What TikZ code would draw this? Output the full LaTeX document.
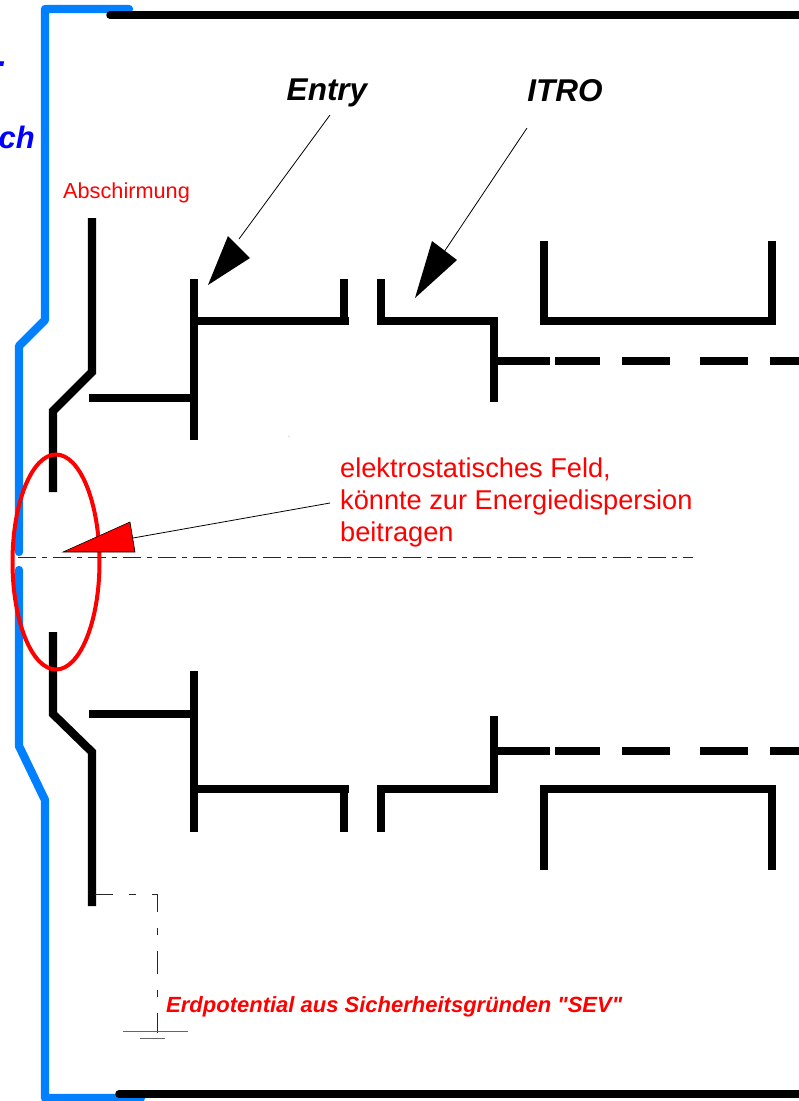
\documentclass[tikz,border=0pt]{standalone}
\usepackage{fontspec}
\newfontfamily\lib{Liberation Sans}
\definecolor{shield}{RGB}{0,128,255}
\begin{document}
\begin{tikzpicture}[x=1pt,y=-1pt,
 wall/.style={line width=8.3pt,black,line cap=butt,line join=miter},
 shell/.style={line width=7.5pt,black,line cap=round},
 blueline/.style={line width=8.3pt,shield,line cap=round,line join=round},
 thin line/.style={line width=0.8pt,black},
 tiphead/.style={draw=black,line width=0.6pt},
 axis/.style={line width=0.7pt,black!85,dash pattern=on 18pt off 6pt on 5pt off 6pt},
 gnd/.style={line width=0.8pt,black!85,dash pattern=on 23pt off 16pt on 7pt off 16pt,dash phase=5pt},
 redtxt/.style={text=red,inner sep=0pt,anchor=base west,font=\lib\fontsize{27.2}{30}\selectfont},
 bluetxt/.style={text=blue,inner sep=0pt,font=\lib\bfseries\itshape\fontsize{31}{34}\selectfont},
 blacktxt/.style={inner sep=0pt,anchor=base,font=\lib\bfseries\itshape\fontsize{31.5}{36}\selectfont}
]
\useasboundingbox (0,0) rectangle (799,1101);
\begin{scope}
\clip (0,0) rectangle (799,1101);
% outer housing
\draw[blueline] (129,9) -- (45,9) -- (45,320) -- (19,346) -- (19,552);
\draw[blueline] (19,570) -- (19,746) -- (45,800) -- (45,1098) -- (141,1098);
\draw[shell] (110,15) -- (799,15);
\draw[shell] (119,1094) -- (799,1094);
% upper electrodes
\draw[wall] (92,218) -- (92,372) -- (53,411) -- (53,492);
\draw[wall] (89,398) -- (194,398);
\draw[wall] (194,279) -- (194,440);
\draw[wall] (194,321) -- (349,321);
\draw[wall] (344,279) -- (344,325);
\draw[wall] (381,279) -- (381,321) -- (494,321) -- (494,402);
\draw[wall] (494,361) -- (550,361);
\draw[wall] (555,361) -- (600,361);
\draw[wall] (622,361) -- (670,361);
\draw[wall] (700,361) -- (748,361);
\draw[wall] (770,361) -- (799,361);
\draw[wall] (544,241) -- (544,321) -- (772,321) -- (772,241);
% lower electrodes
\draw[wall] (92,906) -- (92,752) -- (53,714) -- (53,632);
\draw[wall] (89,714) -- (194,714);
\draw[wall] (194,671) -- (194,832);
\draw[wall] (194,789) -- (349,789);
\draw[wall] (344,785) -- (344,832);
\draw[wall] (381,832) -- (381,789) -- (494,789) -- (494,716);
\draw[wall] (494,751) -- (550,751);
\draw[wall] (555,751) -- (600,751);
\draw[wall] (622,751) -- (670,751);
\draw[wall] (700,751) -- (748,751);
\draw[wall] (770,751) -- (799,751);
\draw[wall] (544,870) -- (544,789) -- (772,789) -- (772,870);
% axis and ellipse
\draw[axis] (18,557) -- (693,557);
\draw[red,line width=4pt] (56,562) ellipse [x radius=43.5pt,y radius=107.5pt];
% labels
\node[bluetxt,anchor=base east] (lblch) at (35,148) {ch};
\node[text=blue,inner sep=0pt,anchor=base east,font=\lib\bfseries\itshape\fontsize{40}{44}\selectfont] (lbldash) at (6,74) {-};
\node[text=red,inner sep=0pt,anchor=base west,font=\lib\fontsize{21.7}{24}\selectfont] (shieldlbl) at (63,198) {Abschirmung};
\node[blacktxt] (entry) at (327,100) {Entry};
\node[blacktxt] (itro) at (565,101) {ITRO};
\node[redtxt] (f1) at (340,477) {elektrostatisches Feld,};
\node[redtxt] (f2) at (340,509) {könnte zur Energiedispersion};
\node[redtxt] (f3) at (340,541) {beitragen};
\node[text=red,inner sep=0pt,anchor=base west,font=\lib\bfseries\itshape\fontsize{22}{24}\selectfont] (earth) at (166,1012) {Erdpotential aus Sicherheitsgründen "SEV"};
% arrows
\coordinate (entrytip) at (208,285);
\coordinate (itrotip) at (415,298);
\coordinate (fieldtip) at (63,552);
\draw[thin line] (330,115) -- (239,239);
\fill[black] (entrytip) -- (228,236) -- (250,258) -- cycle;
\draw[thin line] (527,128) -- (444,252);
\fill[black] (itrotip) -- (432,241) -- (457,260) -- cycle;
\draw[thin line] (330,503) -- (133,538);
\filldraw[fill=red,tiphead] (fieldtip) -- (130,522) -- (135,552) -- cycle;
% earth connection
\draw[gnd] (95,894) -- (157,894) -- (157,1033);
\draw[line width=0.8pt,black!60] (123,1031) -- (188,1031);
\draw[line width=0.8pt,black!60] (140,1038) -- (165,1038);
\fill[black!60] (289,436) circle (0.5pt);
\end{scope}
\end{tikzpicture}
\end{document}
